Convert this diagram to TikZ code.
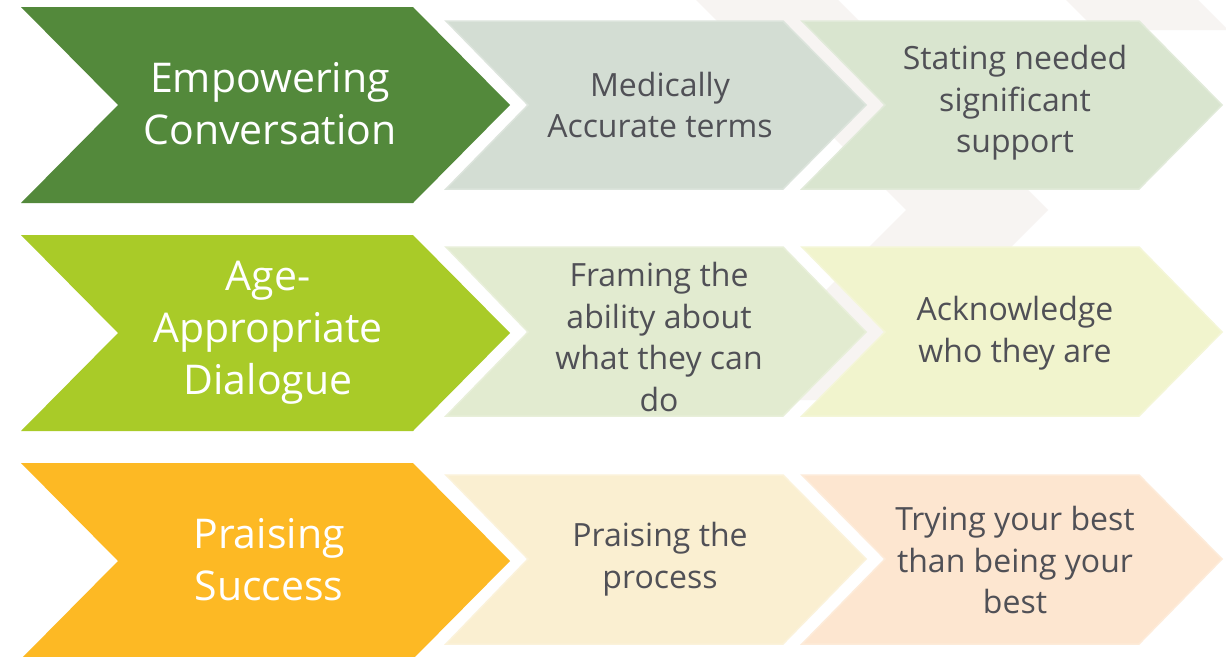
\documentclass[tikz,border=0pt]{standalone}
\usepackage{fontspec}
\setmainfont{Open Sans}
\definecolor{bigA}{RGB}{83,137,59}
\definecolor{bigB}{RGB}{169,203,40}
\definecolor{bigC}{RGB}{253,185,36}
\definecolor{mAa}{RGB}{211,221,211}
\definecolor{mAb}{RGB}{217,229,207}
\definecolor{mBa}{RGB}{226,235,208}
\definecolor{mBb}{RGB}{241,244,205}
\definecolor{mCa}{RGB}{250,239,209}
\definecolor{mCb}{RGB}{253,230,208}
\definecolor{faint}{RGB}{247,244,242}
\definecolor{txtgray}{RGB}{80,80,86}
\tikzset{
  bigtext/.style={text=white, align=center, font=\fontsize{41}{52}\selectfont, inner sep=0pt},
  smalltext/.style={text=txtgray, align=center, font=\fontsize{32}{41.5}\selectfont, inner sep=0pt},
  medchev/.style={fill=#1, draw=#1!80!white, line width=1.5pt, line join=miter},
}
\begin{document}
\begin{tikzpicture}[x=1pt,y=-1pt]
\useasboundingbox (0,0) rectangle (1226,656);
\clip (0,0) rectangle (1226,656);
\fill[white] (0,0) rectangle (1226,656);
% faint background chevrons
\fill[faint] (686,-10) -- (828,-10) -- (1048,210) -- (858,400) -- (716,400) -- (906,210) -- cycle;
\fill[faint] (1056,-10) -- (1188,-10) -- (1228,30) -- (1096,30) -- cycle;
% row 1
\fill[bigA] (21,7) -- (413,7) -- (510,105) -- (413,203) -- (21,203) -- (118,105) -- cycle;
\path[medchev=mAa] (446,21) -- (783,21) -- (866,105) -- (783,189) -- (446,189) -- (528,105) -- cycle;
\path[medchev=mAb] (802,21) -- (1139,21) -- (1222,105) -- (1139,189) -- (802,189) -- (885,105) -- cycle;
% row 2
\fill[bigB] (21,235) -- (413,235) -- (510,333) -- (413,431) -- (21,431) -- (118,333) -- cycle;
\path[medchev=mBa] (446,247) -- (783,247) -- (866,332) -- (783,416) -- (446,416) -- (528,332) -- cycle;
\path[medchev=mBb] (802,247) -- (1139,247) -- (1222,332) -- (1139,416) -- (802,416) -- (885,332) -- cycle;
% row 3
\fill[bigC] (21,463) -- (413,463) -- (510,561) -- (413,659) -- (21,659) -- (118,561) -- cycle;
\path[medchev=mCa] (446,475) -- (783,475) -- (866,559) -- (783,644) -- (446,644) -- (528,559) -- cycle;
\path[medchev=mCb] (802,475) -- (1139,475) -- (1222,559) -- (1139,644) -- (802,644) -- (885,559) -- cycle;
% texts
\node[bigtext] (b1) at (270,104) {Empowering\\Conversation};
\node[bigtext] (b2) at (268,333) {Age-\\Appropriate\\Dialogue};
\node[bigtext] (b3) at (269,560) {Praising\\Success};
\node[smalltext] (a1) at (660,105) {Medically\\Accurate terms};
\node[smalltext] (a2) at (1015,103) {Stating needed\\significant\\support};
\node[smalltext] (c1) at (659,337) {Framing the\\ability about\\what they can\\do};
\node[smalltext] (c2) at (1015,333) {Acknowledge\\who they are};
\node[smalltext] (d1) at (660,559) {Praising the\\process};
\node[smalltext] (d2) at (1015,560) {Trying your best\\than being your\\best};
\end{tikzpicture}
\end{document}
